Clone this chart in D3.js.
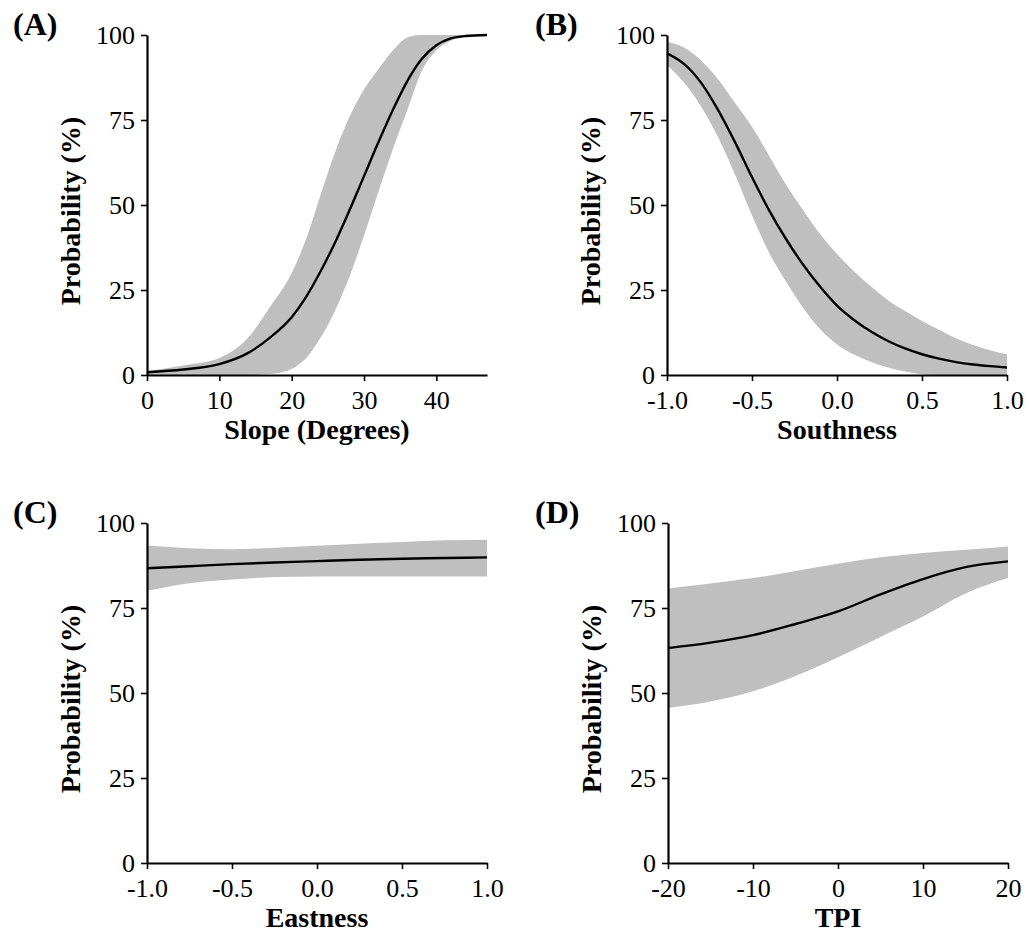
<!DOCTYPE html>
<html>
<head>
<meta charset="utf-8">
<script src="https://cdn.jsdelivr.net/npm/d3@7"></script>
<style>
  body { margin: 0; background: #fff; }
  svg { display: block; }
  .tick text { font-family: "Liberation Serif", "Times New Roman", serif; font-size: 26px; fill: #000; }
  .title { font-family: "Liberation Serif", "Times New Roman", serif; font-weight: bold; font-size: 28px; fill: #000; }
  .plabel { font-family: "Liberation Serif", "Times New Roman", serif; font-weight: bold; font-size: 32px; fill: #000; }
</style>
</head>
<body>
<div id="chart"></div>
<script>
// ---- data ----
// (A) slope
var slopeX     = [0, 5, 10, 14, 17, 20, 22, 24, 26, 28, 30, 32, 34, 36, 38, 40, 42, 44, 47];
var slopeMean  = [0.8, 1.6, 3.2, 6.5, 11, 17, 23, 30.5, 39, 48.5, 58.5, 68.5, 78, 86.5, 93, 97, 99, 99.7, 100];
var slopeUpper = [1.2, 2.8, 5, 11, 20, 30, 40, 53, 65.5, 76, 84, 90, 95.5, 99.3, 100, 100, 100, 100, 100];
var slopeLower = [0, 0, 0, 0, 0.3, 1.8, 5, 11, 19, 29, 41, 54, 66.5, 78, 89.5, 95.5, 98.3, 99.5, 100];

// (B) southness
var southX     = [-1, -0.9, -0.8, -0.7, -0.6, -0.5, -0.4, -0.3, -0.2, -0.1, 0, 0.1, 0.2, 0.3, 0.4, 0.5, 0.6, 0.7, 0.8, 0.9, 1];
var southMean  = [94.6, 91.5, 86, 78, 68.5, 58.2, 48.5, 40, 32.5, 26, 20.4, 16.2, 12.8, 10, 7.8, 6.1, 4.8, 3.8, 3.1, 2.6, 2.2];
var southUpper = [98, 96.3, 92.5, 87, 80, 73, 64.5, 56, 48.5, 41.5, 35.6, 30.5, 26, 22, 18.8, 15.9, 13.3, 10.8, 8.8, 7.3, 6.1];
var southLower = [91.2, 86, 79, 70, 59, 47, 36, 27.5, 19.8, 13.5, 9, 6, 3.8, 2.2, 1, 0.2, 0, 0, 0, 0, 0];

// (C) eastness
var eastX     = [-1, -0.75, -0.5, -0.25, 0, 0.25, 0.5, 0.75, 1];
var eastMean  = [86.7, 87.3, 87.9, 88.4, 88.8, 89.2, 89.5, 89.7, 89.9];
var eastUpper = [93.4, 92.6, 92.3, 92.7, 93.3, 93.9, 94.4, 94.9, 95.1];
var eastLower = [80.1, 82.3, 83.4, 84.1, 84.3, 84.3, 84.3, 84.3, 84.3];

// (D) TPI
var tpiX     = [-20, -15, -10, -5, 0, 5, 10, 15, 20];
var tpiMean  = [63.2, 64.8, 67, 70.3, 74, 79, 83.5, 87, 88.7];
var tpiUpper = [80.7, 82.2, 83.8, 85.9, 88, 89.9, 91.2, 92.1, 93.1];
var tpiLower = [45.6, 47.5, 50.5, 55, 60.5, 66.5, 72.5, 79.3, 83.8];

var yTicks = [0, 25, 50, 75, 100];

var W = 1029, H = 934;
var pw = 340, ph = 340;
var bandColor = "#bfbfbf";

var svg = d3.select("#chart").append("svg")
    .attr("width", W)
    .attr("height", H);

function drawPanel(p) {
    var g = svg.append("g").attr("transform", "translate(" + p.left + "," + p.top + ")");

    var x = d3.scaleLinear().domain(p.domain).range([0, pw]);
    var y = d3.scaleLinear().domain([0, 100]).range([ph, 0]);

    var rows = p.xs.map(function (d, i) {
        return { x: d, m: p.mean[i], lo: p.lower[i], hi: p.upper[i] };
    });

    var area = d3.area()
        .x(function (d) { return x(d.x); })
        .y0(function (d) { return y(d.lo); })
        .y1(function (d) { return y(d.hi); })
        .curve(d3.curveMonotoneX);
    var line = d3.line()
        .x(function (d) { return x(d.x); })
        .y(function (d) { return y(d.m); })
        .curve(d3.curveMonotoneX);

    g.append("path").datum(rows).attr("d", area).attr("fill", bandColor);
    g.append("path").datum(rows).attr("d", line)
        .attr("fill", "none").attr("stroke", "#000").attr("stroke-width", 2.4);

    var xa = g.append("g").attr("transform", "translate(0," + ph + ")")
        .call(d3.axisBottom(x).tickValues(p.ticks).tickFormat(p.fmt)
            .tickSize(6).tickSizeOuter(0).tickPadding(10));
    var ya = g.append("g")
        .call(d3.axisLeft(y).tickValues(yTicks).tickFormat(function (d) { return String(d); })
            .tickSize(6).tickSizeOuter(0).tickPadding(6));
    [xa, ya].forEach(function (a) {
        a.select(".domain").attr("stroke", "#000").attr("stroke-width", 2.2);
        a.selectAll(".tick line").attr("stroke", "#000").attr("stroke-width", 1.6);
    });

    g.append("text").attr("class", "title")
        .attr("x", pw / 2).attr("y", ph + 64)
        .attr("text-anchor", "middle").text(p.xlab);
    g.append("text").attr("class", "title")
        .attr("transform", "translate(-67," + (ph / 2 + 6) + ") rotate(-90)")
        .attr("text-anchor", "middle").text("Probability (%)");
    g.append("text").attr("class", "plabel")
        .attr("x", p.labx - p.left).attr("y", 0)
        .text(p.label);
}

var fmt1 = function (d) { return d.toFixed(1); };
var fmt0 = function (d) { return String(d); };

drawPanel({ left: 147, top: 35, domain: [0, 47], ticks: [0, 10, 20, 30, 40], fmt: fmt0,
    xs: slopeX, mean: slopeMean, upper: slopeUpper, lower: slopeLower,
    xlab: "Slope (Degrees)", label: "(A)", labx: 13 });
drawPanel({ left: 667, top: 35, domain: [-1, 1], ticks: [-1, -0.5, 0, 0.5, 1], fmt: fmt1,
    xs: southX, mean: southMean, upper: southUpper, lower: southLower,
    xlab: "Southness", label: "(B)", labx: 535 });
drawPanel({ left: 147, top: 523, domain: [-1, 1], ticks: [-1, -0.5, 0, 0.5, 1], fmt: fmt1,
    xs: eastX, mean: eastMean, upper: eastUpper, lower: eastLower,
    xlab: "Eastness", label: "(C)", labx: 13 });
drawPanel({ left: 668, top: 523, domain: [-20, 20], ticks: [-20, -10, 0, 10, 20], fmt: fmt0,
    xs: tpiX, mean: tpiMean, upper: tpiUpper, lower: tpiLower,
    xlab: "TPI", label: "(D)", labx: 535 });
</script>
</body>
</html>
